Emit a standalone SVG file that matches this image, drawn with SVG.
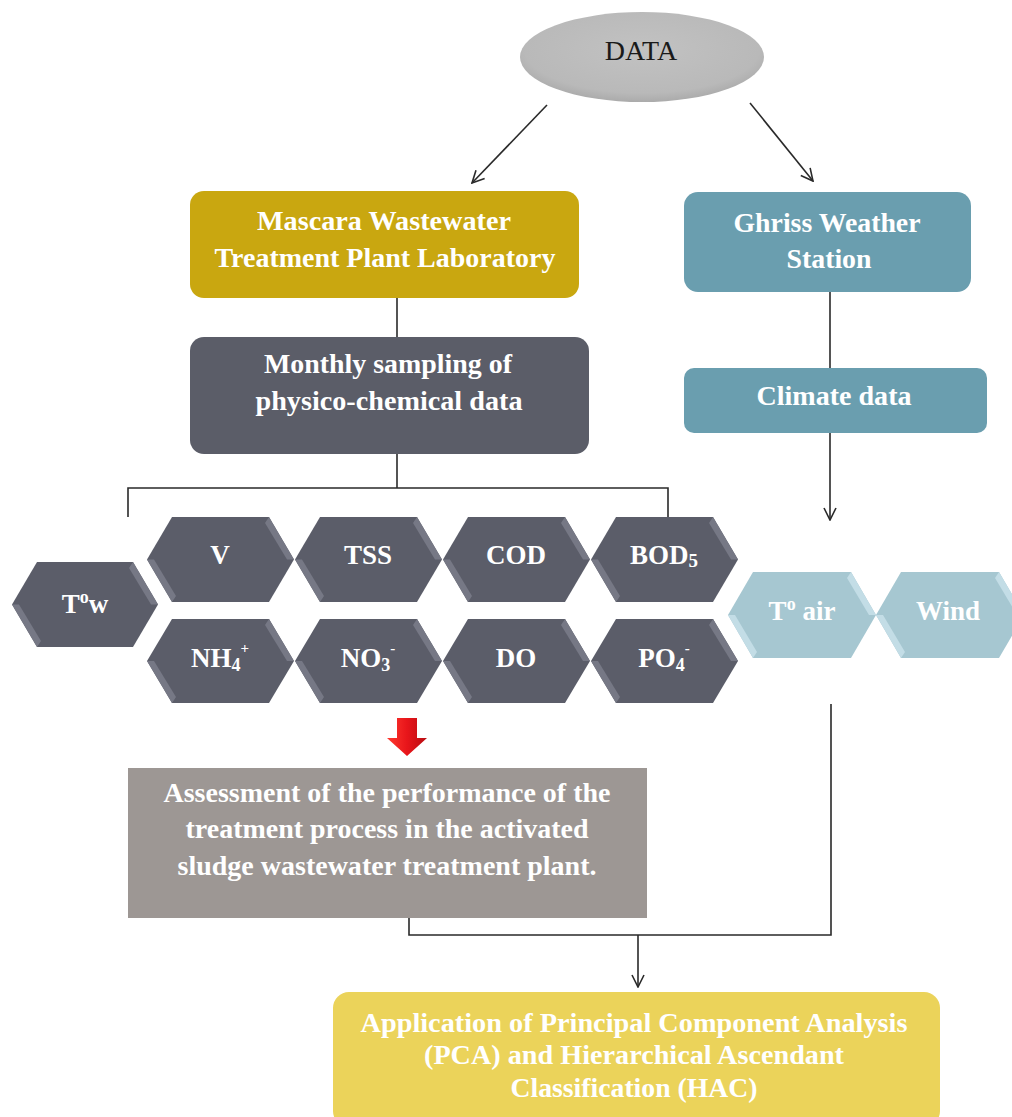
<svg xmlns="http://www.w3.org/2000/svg" width="1012" height="1117" viewBox="0 0 1012 1117">
<style>
  .t { font-family: "Liberation Serif", "DejaVu Serif", serif; font-weight: bold; fill: #ffffff; text-anchor: middle; font-size: 27px; }
  .hx { font-family: "Liberation Serif", "DejaVu Serif", serif; font-weight: bold; fill: #ffffff; text-anchor: middle; font-size: 27px; }
  .line { fill: none; stroke: #2a2a2a; stroke-width: 1.6; }
  .arr { fill: none; stroke: #2a2a2a; stroke-width: 1.6; marker-end: url(#open); }
  .hexd { fill: #5b5d69; }
  .hexl { fill: #a6c7d1; }
  .bevd { fill: #767885; }
  .bevl { fill: #c3dde6; }
</style>
<defs>
  <marker id="open" viewBox="0 0 14 14" refX="13" refY="7" markerWidth="14" markerHeight="14" markerUnits="userSpaceOnUse" orient="auto">
    <path d="M1,1 L13,7 L1,13" fill="none" stroke="#2a2a2a" stroke-width="1.6"/>
  </marker>
  <radialGradient id="gData" cx="0.5" cy="0.42" r="0.6">
    <stop offset="0" stop-color="#c2c2c2"/>
    <stop offset="0.8" stop-color="#b9b9b9"/>
    <stop offset="1" stop-color="#a8a8a8"/>
  </radialGradient>
  <linearGradient id="gRed" x1="0" y1="0" x2="1" y2="0">
    <stop offset="0" stop-color="#ff3a30"/>
    <stop offset="0.5" stop-color="#e8151a"/>
    <stop offset="1" stop-color="#b80d12"/>
  </linearGradient>
</defs>

<g id="connectors">
  <line class="arr" x1="547" y1="105" x2="472" y2="183"/>
  <line class="arr" x1="750" y1="103" x2="813" y2="181"/>
  <line class="line" x1="397" y1="298" x2="397" y2="337"/>
  <line class="line" x1="397" y1="454" x2="397" y2="488"/>
  <polyline class="line" points="128,517 128,488 668,488 668,517"/>
  <line class="line" x1="830" y1="292" x2="830" y2="368"/>
  <line class="arr" x1="830" y1="433" x2="830" y2="520"/>
  <polyline class="line" points="409,918 409,935 831,935 831,704"/>
  <line class="arr" x1="638" y1="935" x2="638" y2="987"/>
</g>

<g id="data">
  <ellipse cx="642" cy="57" rx="122" ry="45" fill="url(#gData)"/>
  <text x="641" y="60" font-family="'Liberation Serif', 'DejaVu Serif', serif" font-size="28" fill="#1a1a1a" text-anchor="middle">DATA</text>
</g>

<g id="mascara">
  <rect x="190" y="191" width="389" height="107" rx="14" fill="#c9a710"/>
  <text class="t" x="384" y="230" textLength="254" lengthAdjust="spacingAndGlyphs">Mascara Wastewater</text>
  <text class="t" x="385" y="267" textLength="341" lengthAdjust="spacingAndGlyphs">Treatment Plant Laboratory</text>
</g>

<g id="ghriss">
  <rect x="684" y="192" width="287" height="100" rx="14" fill="#6a9eaf"/>
  <text class="t" x="827" y="232" textLength="187" lengthAdjust="spacingAndGlyphs">Ghriss Weather</text>
  <text class="t" x="829" y="268" textLength="85" lengthAdjust="spacingAndGlyphs">Station</text>
</g>

<g id="monthly">
  <rect x="190" y="337" width="399" height="117" rx="14" fill="#5b5d68"/>
  <text class="t" x="388" y="373" textLength="248" lengthAdjust="spacingAndGlyphs">Monthly sampling of</text>
  <text class="t" x="389" y="410" textLength="267" lengthAdjust="spacingAndGlyphs">physico-chemical data</text>
</g>

<g id="climate">
  <rect x="684" y="368" width="303" height="65" rx="10" fill="#6a9eaf"/>
  <text class="t" x="834" y="405" textLength="155" lengthAdjust="spacingAndGlyphs">Climate data</text>
</g>

<g id="tw">
  <polygon class="hexd" points="12,604.5 37,562 133,562 158,604.5 133,647 37,647"/>
  <polygon class="bevd" points="12,604.5 19,604.5 41,641 37,647"/>
  <polygon class="bevd" points="133,562 158,604.5 151,604.5 129,568"/>
  <text class="hx" x="85" y="613">T<tspan font-size="18" dy="-10">o</tspan><tspan dy="10">w</tspan></text>
</g>

<g id="v">
  <polygon class="hexd" points="147,559.5 172,517 269,517 294,559.5 269,602 172,602"/>
  <polygon class="bevd" points="147,559.5 154,559.5 176,596 172,602"/>
  <polygon class="bevd" points="269,517 294,559.5 287,559.5 265,523"/>
  <text class="hx" x="220" y="564">V</text>
</g>
<g id="tss">
  <polygon class="hexd" points="295,559.5 320,517 417,517 442,559.5 417,602 320,602"/>
  <polygon class="bevd" points="295,559.5 302,559.5 324,596 320,602"/>
  <polygon class="bevd" points="417,517 442,559.5 435,559.5 413,523"/>
  <text class="hx" x="368" y="564">TSS</text>
</g>
<g id="cod">
  <polygon class="hexd" points="443,559.5 468,517 565,517 590,559.5 565,602 468,602"/>
  <polygon class="bevd" points="443,559.5 450,559.5 472,596 468,602"/>
  <polygon class="bevd" points="565,517 590,559.5 583,559.5 561,523"/>
  <text class="hx" x="516" y="564">COD</text>
</g>
<g id="bod5">
  <polygon class="hexd" points="591,559.5 616,517 713,517 738,559.5 713,602 616,602"/>
  <polygon class="bevd" points="591,559.5 598,559.5 620,596 616,602"/>
  <polygon class="bevd" points="713,517 738,559.5 731,559.5 709,523"/>
  <text class="hx" x="664" y="564">BOD<tspan font-size="19" dy="3">5</tspan></text>
</g>

<g id="nh4">
  <polygon class="hexd" points="147,661 172,619 269,619 294,661 269,703 172,703"/>
  <polygon class="bevd" points="147,661 154,661 176,697 172,703"/>
  <polygon class="bevd" points="269,619 294,661 287,661 265,625"/>
  <text class="hx" x="220" y="667">NH<tspan font-size="18" dy="4">4</tspan><tspan font-size="15" dy="-18">+</tspan></text>
</g>
<g id="no3">
  <polygon class="hexd" points="295,661 320,619 417,619 442,661 417,703 320,703"/>
  <polygon class="bevd" points="295,661 302,661 324,697 320,703"/>
  <polygon class="bevd" points="417,619 442,661 435,661 413,625"/>
  <text class="hx" x="368" y="667">NO<tspan font-size="18" dy="4">3</tspan><tspan font-size="15" dy="-18">-</tspan></text>
</g>
<g id="do">
  <polygon class="hexd" points="443,661 468,619 565,619 590,661 565,703 468,703"/>
  <polygon class="bevd" points="443,661 450,661 472,697 468,703"/>
  <polygon class="bevd" points="565,619 590,661 583,661 561,625"/>
  <text class="hx" x="516" y="667">DO</text>
</g>
<g id="po4">
  <polygon class="hexd" points="591,661 616,619 713,619 738,661 713,703 616,703"/>
  <polygon class="bevd" points="591,661 598,661 620,697 616,703"/>
  <polygon class="bevd" points="713,619 738,661 731,661 709,625"/>
  <text class="hx" x="664" y="667">PO<tspan font-size="18" dy="4">4</tspan><tspan font-size="15" dy="-18">-</tspan></text>
</g>

<g id="tair">
  <polygon class="hexl" points="728,615 753,572 851,572 876,615 851,658 753,658"/>
  <polygon class="bevl" points="728,615 735,615 757,652 753,658"/>
  <polygon class="bevl" points="851,572 876,615 869,615 847,578"/>
  <text class="hx" x="802" y="620">T<tspan font-size="18" dy="-10">o</tspan><tspan dy="10"> air</tspan></text>
</g>
<g id="wind">
  <polygon class="hexl" points="876,615 901,572 999,572 1024,615 999,658 901,658"/>
  <polygon class="bevl" points="876,615 883,615 905,652 901,658"/>
  <polygon class="bevl" points="999,572 1024,615 1017,615 995,578"/>
  <text class="hx" x="948" y="620">Wind</text>
</g>

<g id="redarrow">
  <polygon points="397,718 417,718 417,738 427,738 407,756 387,738 397,738" fill="url(#gRed)"/>
</g>

<g id="assessment">
  <rect x="128" y="768" width="519" height="150" fill="#9d9794"/>
  <text class="t" x="387" y="802" textLength="447" lengthAdjust="spacingAndGlyphs">Assessment of the performance of the</text>
  <text class="t" x="387" y="838" textLength="403" lengthAdjust="spacingAndGlyphs">treatment process in the activated</text>
  <text class="t" x="387" y="875" textLength="419" lengthAdjust="spacingAndGlyphs">sludge wastewater treatment plant.</text>
</g>

<g id="application">
  <rect x="333" y="992" width="607" height="135" rx="16" fill="#ebd35a"/>
  <text class="t" x="634" y="1032" textLength="547" lengthAdjust="spacingAndGlyphs">Application of Principal Component Analysis</text>
  <text class="t" x="634" y="1064" textLength="420" lengthAdjust="spacingAndGlyphs">(PCA) and Hierarchical Ascendant</text>
  <text class="t" x="634" y="1097" textLength="247" lengthAdjust="spacingAndGlyphs">Classification (HAC)</text>
</g>
</svg>
